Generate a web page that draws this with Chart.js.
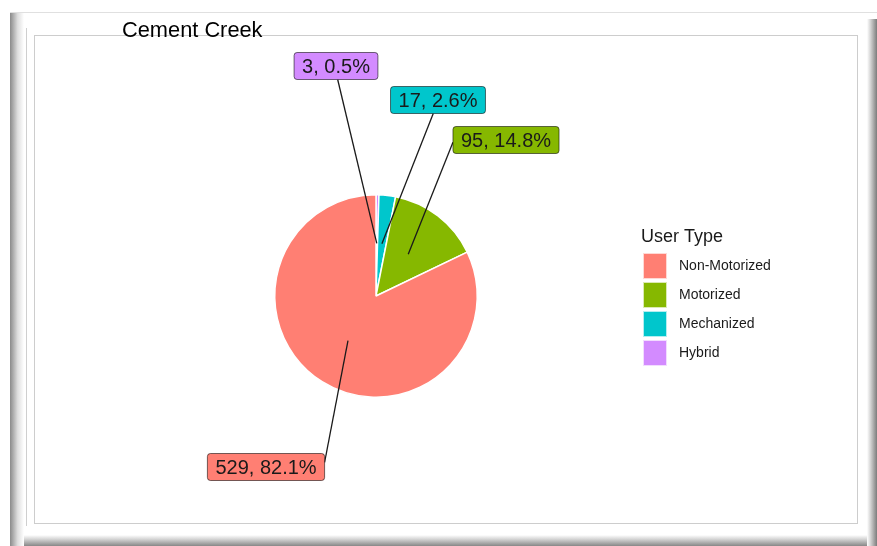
<!DOCTYPE html>
<html>
<head>
<meta charset="utf-8">
<script src="https://cdn.jsdelivr.net/npm/chart.js@4"></script>
<style>
body{margin:0;background:#fff;width:877px;height:546px;overflow:hidden;position:relative}
#frame{position:absolute;left:10px;top:12px;width:867px;height:534px;
 background:
  linear-gradient(to right,#8a8a8a,#dedede 55%,#fff) left top/14px 100% no-repeat,
  linear-gradient(to right,#fff,#d4d4d4 35%,#7c7c7c) right 6px/10px 100% no-repeat,
  linear-gradient(to bottom,#fff,#d4d4d4 35%,#7c7c7c) 10px bottom/100% 12px no-repeat,
  #fff;
 border-top:1px solid #e0e0e0}
#bevel{position:absolute;left:26px;top:28px;width:1px;height:498px;background:#cfcfcf}
#inner{position:absolute;left:34px;top:35px;width:822px;height:487px;border:1.5px solid #cdcdcd}
canvas{position:absolute;left:0;top:0}
</style>
</head>
<body>
<div id="frame"></div>
<div id="bevel"></div>
<div id="inner"></div>
<canvas id="pie" width="877" height="546"></canvas>
<script>
// data, clockwise from 12 o'clock
let userTypes = ["Hybrid","Mechanized","Motorized","Non-Motorized"]
let counts = [3,17,95,529]
let percents = [0.5,2.6,14.8,82.1]
let colors = ["#D38BFF","#00C6CC","#86B800","#FF7F73"]

// label boxes: centre offset from pie centre, and where the leader line meets the box
let labelOffsets = [[-40,-230],[62,-196],[130,-156],[-110,171]]
let labelAttach = [[0.52,1],[0.45,1],[0,0.58],[1,0.33]]

const FONT = '"Liberation Sans", Arial, sans-serif'

let extras = {
id:"extras",
afterDatasetsDraw(chart){
let ctx = chart.ctx
let meta = chart.getDatasetMeta(0)
ctx.save()

// title
ctx.fillStyle = "#000"
ctx.font = "21.8px " + FONT
ctx.textAlign = "left"
ctx.textBaseline = "alphabetic"
ctx.fillText("Cement Creek",122,37)

// repel-style labels
let boxes = []
meta.data.forEach((arc,i)=>{
let p = arc.getProps(["x","y","startAngle","endAngle","outerRadius"],true)
let mid = (p.startAngle+p.endAngle)/2
let ax = p.x + Math.cos(mid)*p.outerRadius*0.52
let ay = p.y + Math.sin(mid)*p.outerRadius*0.52
let text = counts[i] + ", " + percents[i].toFixed(1) + "%"
ctx.font = "20px " + FONT
let w = ctx.measureText(text).width + 16
let h = 27
let bx = p.x + labelOffsets[i][0] - w/2
let by = p.y + labelOffsets[i][1] - h/2
let tx = bx + w*labelAttach[i][0]
let ty = by + h*labelAttach[i][1]
ctx.strokeStyle = "#1a1a1a"
ctx.lineWidth = 1.3
ctx.beginPath()
ctx.moveTo(ax,ay)
ctx.lineTo(tx,ty)
ctx.stroke()
boxes.push({bx,by,w,h,text,i})
})

boxes.forEach(b=>{
ctx.beginPath()
ctx.roundRect(b.bx,b.by,b.w,b.h,3)
ctx.fillStyle = colors[b.i]
ctx.fill()
ctx.strokeStyle = "rgba(0,0,0,0.55)"
ctx.lineWidth = 1
ctx.stroke()
ctx.fillStyle = "#1a1a1a"
ctx.font = "20px " + FONT
ctx.textAlign = "center"
ctx.textBaseline = "middle"
ctx.fillText(b.text,b.bx+b.w/2,b.by+b.h/2+1)
})

// legend, reversed order
ctx.textAlign = "left"
ctx.textBaseline = "alphabetic"
ctx.fillStyle = "#1a1a1a"
ctx.font = "18px " + FONT
ctx.fillText("User Type",641,242)
let order = [3,2,1,0]
order.forEach((k,j)=>{
let y = 253 + j*29
ctx.fillStyle = colors[k]
ctx.fillRect(643,y,24,26)
ctx.strokeStyle = "rgba(255,255,255,0.7)"
ctx.lineWidth = 1
ctx.strokeRect(643.5,y+0.5,23,25)
ctx.fillStyle = "#1a1a1a"
ctx.font = "14px " + FONT
ctx.textBaseline = "middle"
ctx.fillText(userTypes[k],679,y+13)
ctx.textBaseline = "alphabetic"
})

ctx.restore()
}
}

new Chart(document.getElementById("pie"),{
type:"pie",
data:{
labels:userTypes,
datasets:[{
data:counts,
backgroundColor:colors,
borderColor:"#fff",
borderWidth:1.5,
hoverOffset:0,
offset:0
}]
},
options:{
responsive:false,
animation:false,
devicePixelRatio:1,
layout:{padding:{left:175,right:300,top:194,bottom:148}},
plugins:{
legend:{display:false},
tooltip:{enabled:false},
title:{display:false}
}
},
plugins:[extras]
})
</script>
</body>
</html>
